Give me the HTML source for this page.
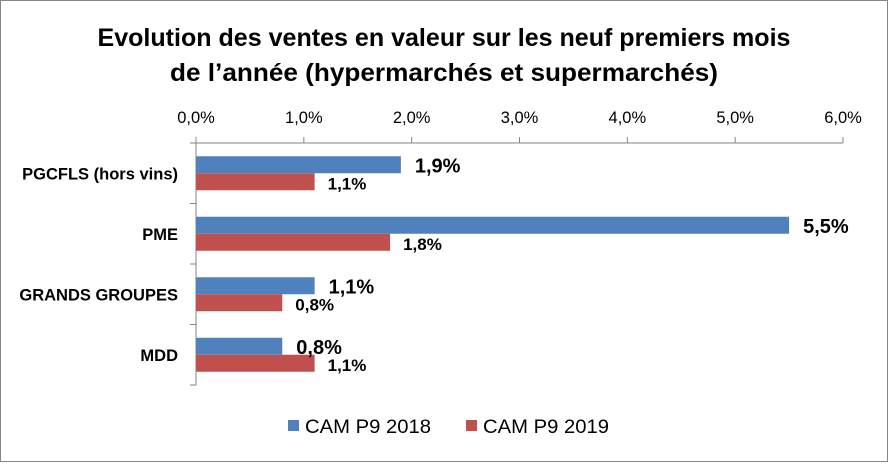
<!DOCTYPE html>
<html><head><meta charset="utf-8"><style>
body{margin:0;background:#fff}
svg text{font-family:"Liberation Sans",sans-serif}
</style></head><body>
<svg id="c" width="888" height="462" xmlns="http://www.w3.org/2000/svg">
<rect x="0.5" y="0.5" width="887" height="461" fill="#fff" stroke="#868686"/>
<text x="444" y="46" text-anchor="middle" font-size="25" font-weight="bold" fill="#000" textLength="693" lengthAdjust="spacingAndGlyphs">Evolution des ventes en valeur sur les neuf premiers mois</text>
<text x="444" y="81" text-anchor="middle" font-size="25" font-weight="bold" fill="#000" textLength="548" lengthAdjust="spacingAndGlyphs">de l’année (hypermarchés et supermarchés)</text>
<g id="g"></g>
<rect x="288" y="420" width="11" height="11" fill="#4f81bd"/>
<text x="305" y="433" font-size="19" fill="#000" textLength="126" lengthAdjust="spacingAndGlyphs">CAM P9 2018</text>
<rect x="466" y="420" width="11" height="11" fill="#c0504d"/>
<text x="483" y="433" font-size="19" fill="#000" textLength="126" lengthAdjust="spacingAndGlyphs">CAM P9 2019</text>
</svg>
<script>
const categories=["PGCFLS (hors vins)","PME","GRANDS GROUPES","MDD"];
const s2018=[1.9,5.5,1.1,0.8];
const s2019=[1.1,1.8,0.8,1.1];
const ticks=[0,1,2,3,4,5,6];
const ns="http://www.w3.org/2000/svg";
const g=document.getElementById('g');
const x0=196,x1=843,yTop=143,yBot=385,maxV=6;
const x=v=>x0+(x1-x0)*v/maxV;
const band=(yBot-yTop)/categories.length;
function mk(t,a){const e=document.createElementNS(ns,t);for(const k in a)e.setAttribute(k,a[k]);g.appendChild(e);return e;}
const fmt=v=>v.toFixed(1).replace('.',',')+'%';
let ax=mk('line',{x1:x0,y1:yTop,x2:x1,y2:yTop,stroke:'#868686'});


let ay=mk('line',{x1:x0,y1:yTop,x2:x0,y2:yBot,stroke:'#868686'});


ticks.forEach(t=>{
 let l=mk('line',{x1:x(t),y1:yTop-6,x2:x(t),y2:yTop,stroke:'#868686'});
 
 
 let tx=mk('text',{x:x(t),y:123,'text-anchor':'middle','font-size':16.5,fill:'#000'});
 tx.textContent=fmt(t);
 
 
});
for(let i=0;i<=categories.length;i++){
 let l=mk('line',{x1:x0-6,y1:yTop+band*i,x2:x0,y2:yTop+band*i,stroke:'#868686'});
 
 
}
categories.forEach((c,i)=>{
 const cy=yTop+band*(i+0.5);
 let t=mk('text',{x:178,y:cy+6,'text-anchor':'end','font-size':16.5,'font-weight':'bold',fill:'#000'});
 t.textContent=c;
 
 
 let b1=mk('rect',{x:x0,y:cy-17,width:x(s2018[i])-x0,height:17,fill:'#4f81bd'});
 
 
 let b2=mk('rect',{x:x0,y:cy,width:x(s2019[i])-x0,height:17,fill:'#c0504d'});
 
 
 let l1=mk('text',{x:x(s2018[i])+14,y:cy-1,'font-size':20,'font-weight':'bold',fill:'#000'});
 l1.textContent=fmt(s2018[i]);
 
 
 let l2=mk('text',{x:x(s2019[i])+13,y:cy+16,'font-size':17,'font-weight':'bold',fill:'#000'});
 l2.textContent=fmt(s2019[i]);
 
 
});
</script>
</body></html>
